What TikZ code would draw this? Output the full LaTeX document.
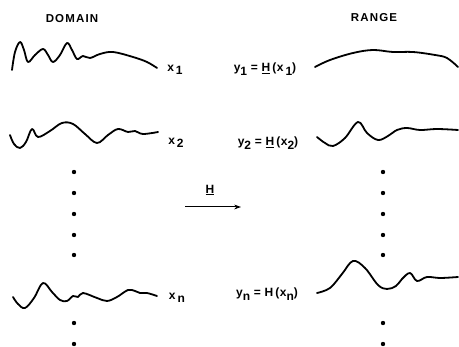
\documentclass[tikz,border=0pt]{standalone}
\usepackage{fontspec}
\setmainfont{Liberation Sans}
\newfontfamily\headfont[LetterSpace=10]{Liberation Sans}
\newfontfamily\lblfont[LetterSpace=4]{Liberation Sans}
\usetikzlibrary{arrows.meta,positioning}
\newcommand{\lowsub}[1]{\raisebox{-0.55ex}{#1}}
\tikzset{
  head/.style={font=\headfont\bfseries\fontsize{11.5}{13}\selectfont,inner sep=0pt},
  lbl/.style={font=\lblfont\bfseries\fontsize{12}{14}\selectfont,inner sep=0pt},
  wave/.style={line width=1.8pt,line cap=round,line join=round},
  dot/.style={circle,fill=black,inner sep=0pt,minimum size=4.4pt},
  arrow/.style={-{Stealth[length=2.4mm,width=1.7mm]},line width=1pt}
}

\begin{document}
\begin{tikzpicture}[x=1pt,y=-1pt]
  \useasboundingbox (0,0) rectangle (459,347);
  % titles
  \node[head] (dom) at (72,19) {DOMAIN};
  \node[head] (rng) at (374,18) {RANGE};

  % domain signals
  \draw[wave] plot[smooth,tension=0.6] coordinates {(12,70) (15,52) (20,42) (24,50) (28,62) (35,55) (43,49) (48,55) (53,62) (60,55) (67,43) (72,50) (77,59) (83,56) (90,58) (100,54) (113,52) (133,57) (147,62) (157,68)};
  \draw[wave] plot[smooth,tension=0.6] coordinates {(10,135) (14,144) (20,148) (26,142) (32,129) (38,137) (50,131) (62,123) (73,124) (85,134) (97,143) (108,135) (118,129) (128,132) (135,131) (143,134) (158,132)};
  \draw[wave] plot[smooth,tension=0.6] coordinates {(13,297) (18,304) (25,308) (34,298) (43,283) (52,292) (60,300) (67,301) (73,296) (78,297) (83,293) (97,298) (107,301) (117,297) (128,290) (135,291) (140,293) (147,293) (157,296)};

  \node[lbl] (x1) at (175,70) {x\,\lowsub{1}};
  \node[lbl] (x2) at (176,143) {x\,\lowsub{2}};
  \node[lbl] (xn) at (177,298) {x\,\lowsub{n}};

  % range signals
  \draw[wave] plot[smooth,tension=0.6] coordinates {(315,67) (330,60) (353,53) (373,50) (393,52) (413,52) (435,55) (447,58) (458,67)};
  \draw[wave] plot[smooth,tension=0.6] coordinates {(317,137) (325,143) (333,146) (345,138) (358,122) (367,133) (378,140) (388,136) (397,130) (407,128) (420,130) (437,129) (458,130)};
  \draw[wave] plot[smooth,tension=0.6] coordinates {(317,293) (330,288) (342,274) (353,261) (365,268) (378,285) (387,289) (396,286) (402,279) (410,273) (417,281) (427,277) (440,278) (458,277)};

  \node[lbl] (y1) at (265,69) {y\lowsub{1} = \underline{H}\,(x\,\lowsub{1})};
  \node[lbl] (y2) at (268,143) {y\lowsub{2} = \underline{H}\,(x\lowsub{2})};
  \node[lbl] (yn) at (267,294) {y\lowsub{n} = H\,(x\lowsub{n})};

  % continuation dots
  \foreach \y [count=\i] in {172,193,214,235,255,323,344} {
    \node[dot] (dl\i) at (74,\y) {};
    \node[dot] (dr\i) at (383,\y) {};
  }

  % operator
  \coordinate (hl) at (185,207);
  \coordinate (hr) at (241,207);
  \draw[arrow] (hl) -- (hr);
  \node[lbl] (op) at (210,190) {\underline{H}};
\end{tikzpicture}
\end{document}
